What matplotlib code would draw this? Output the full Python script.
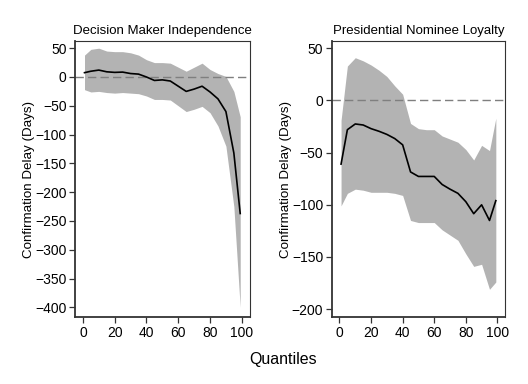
import matplotlib
matplotlib.use('Agg')
import matplotlib.pyplot as plt

plt.rcParams['font.family'] = ['Liberation Sans', 'DejaVu Sans']

quantiles = [1, 5, 10, 15, 20, 25, 30, 35, 40, 45, 50, 55, 60, 65, 70, 75, 80, 85, 90, 95, 99]

# Decision Maker Independence
dmi_est = [7.5, 10, 12, 9, 8, 8.5, 6, 5, 0, -6, -5, -7, -16, -25, -21, -16, -26, -38, -60, -132, -237]
dmi_hi = [38, 48, 50, 45, 44, 44, 42, 38, 30, 25, 25, 24, 17, 10, 17, 24, 13, 6, 1, -25, -69]
dmi_lo = [-22, -26, -25, -27, -28, -27, -28, -29, -33, -39, -39, -40, -50, -60, -56, -51, -62, -85, -120, -225, -400]

# Presidential Nominee Loyalty
pnl_est = [-61, -28, -22.5, -23.5, -27, -29.5, -32.5, -36.5, -42.5, -68.5, -72.8, -72.8, -72.8, -80.5, -85, -89, -97, -108.5, -100, -115, -96]
pnl_hi = [-19, 33, 41, 38, 34, 29, 23, 14, 6, -22, -27, -28, -28, -34, -37, -40, -47, -57, -43, -48, -17]
pnl_lo = [-101, -89, -85, -86, -88, -88, -88, -89, -91, -115, -117, -117, -117, -124, -129, -134, -147, -159, -157, -181, -174]

panels = [
    ('Decision Maker Independence', dmi_est, dmi_hi, dmi_lo,
     [50, 0, -50, -100, -150, -200, -250, -300, -350, -400], (-417, 63),
     [0.142, 0.174, 0.331, 0.720]),
    ('Presidential Nominee Loyalty', pnl_est, pnl_hi, pnl_lo,
     [50, 0, -50, -100, -150, -200], (-207.7, 57.3),
     [0.628, 0.174, 0.329, 0.720]),
]

fig = plt.figure(figsize=(5.28, 3.84), dpi=100)

for title, est, hi, lo, yticks, ylim, rect in panels:
    ax = fig.add_axes(rect)
    ax.fill_between(quantiles, lo, hi, color='#b3b3b3', linewidth=0)
    ax.axhline(0, color='#7f7f7f', linestyle=(0, (6, 3)), linewidth=1.0)
    ax.plot(quantiles, est, color='black', linewidth=1.2)
    ax.set_xlim(-5, 105)
    ax.set_ylim(*ylim)
    ax.set_xticks([0, 20, 40, 60, 80, 100])
    ax.set_yticks(yticks)
    ax.tick_params(labelsize=10, length=4.5, width=0.9, color='#333333', pad=1.5)
    for side in ['left', 'bottom']:
        ax.spines[side].set_linewidth(1.3)
        ax.spines[side].set_color('#333333')
    for side in ['top', 'right']:
        ax.spines[side].set_linewidth(0.8)
        ax.spines[side].set_color('#333333')
    ax.set_title(title, fontsize=9.5, pad=5)
    ax.set_ylabel('Confirmation Delay (Days)', fontsize=9.6)
    ax.yaxis.set_label_coords(-0.229, 0.5)

fig.text(0.536, 0.065, 'Quantiles', fontsize=11.5, ha='center', va='center')

fig.savefig('out.png', dpi=100)
